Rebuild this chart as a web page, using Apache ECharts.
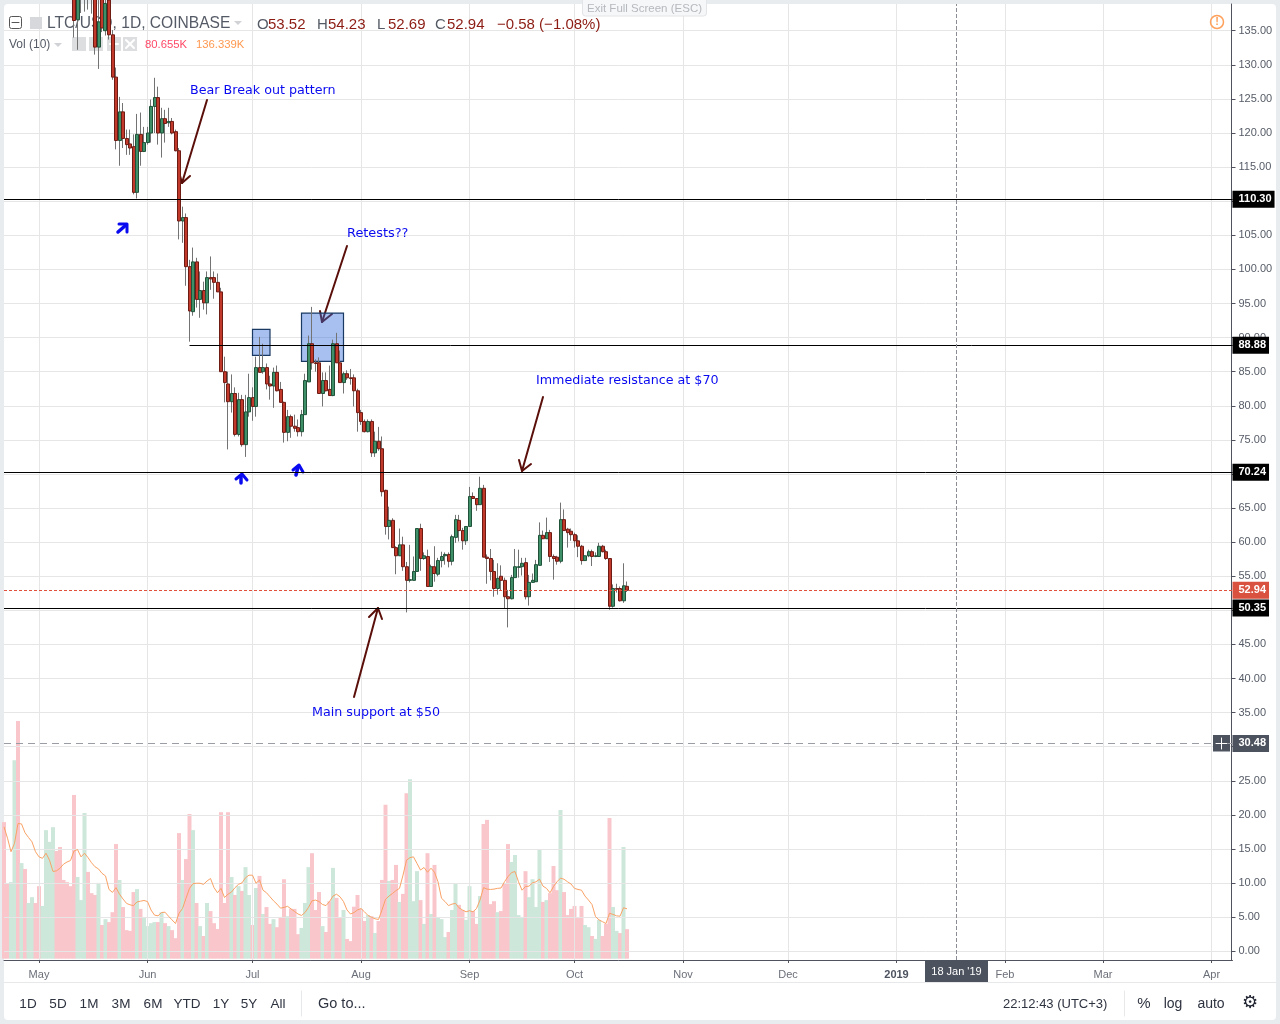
<!DOCTYPE html>
<html>
<head>
<meta charset="utf-8">
<title>LTC/USD</title>
<script src="https://cdn.jsdelivr.net/npm/echarts@6/dist/echarts.min.js"></script>
<style>
html, body { margin: 0; padding: 0; background: #e9ecef; }
#chart { width: 1280px; height: 1024px; }
</style>
</head>
<body>
<div id="chart"></div>
<script>
// daily bars start on this date, the axis runs on into Apr 2019
const firstDay = Date.UTC(2018, 3, 21);
const dayCount = 352;

const tickDates = ['2018-05-01', '2018-06-01', '2018-07-01', '2018-08-01', '2018-09-01', '2018-10-01',
    '2018-11-01', '2018-12-01', '2019-01-01', '2019-02-01', '2019-03-01', '2019-04-01'];
const tickNames = ['May', 'Jun', 'Jul', 'Aug', 'Sep', 'Oct', 'Nov', 'Dec', '2019', 'Feb', 'Mar', 'Apr'];

const priceTicks = [0, 5, 10, 15, 20, 25, 30, 35, 40, 45, 50, 55, 60, 65, 70, 75, 80, 85, 90, 95, 100,
    105, 110, 115, 120, 125, 130, 135];
const priceLabels = [0, 5, 10, 15, 20, 25, 35, 40, 45, 55, 60, 65, 75, 80, 85, 90, 95, 100,
    105, 115, 120, 125, 130, 135];

// the first 20 sessions sit above the visible price range
const hiddenSessions = 20;

// open, close, low, high
const candles = [
    [143, 136.5, 134, 147], [136.6, 141, 132.2, 146], [146, 144, 137.6, 150], [148, 146, 137.8, 151], [146, 148, 138.1, 150],
    [147, 145, 137.5, 149], [141, 132.6, 131.5, 144], [132.6, 136.3, 129.4, 140], [140, 135.4, 134.8, 143], [135, 139, 134.3, 142],
    [139.5, 134.4, 133.7, 142], [134.4, 128.2, 127.8, 135.1], [128.2, 118.9, 117.6, 129.6], [118.9, 123.1, 115.2, 125.3], [123.1, 119.2, 117.8, 124.4],
    [119.2, 118.3, 116.8, 120.5], [118.4, 117.8, 116.8, 120.5], [118, 111.3, 111, 119.8], [111.3, 119.8, 110.4, 122.8], [119.8, 117.3, 115.2, 123],
    [117.3, 118.6, 117.2, 120.9], [118.6, 120, 118.3, 120.9], [120, 123.9, 118.6, 124.9], [123.9, 125.2, 120, 128.1], [125.2, 120, 118.3, 126.8],
    [120, 122.1, 116.4, 123.7], [122.1, 121.4, 118.6, 123.4], [121.5, 121.7, 120.9, 123.7], [121.7, 120, 119.8, 122.2], [120.2, 117.4, 117.3, 120.5],
    [117.4, 107.1, 104.4, 117.8], [107.1, 107.6, 103.9, 109.2], [107.6, 100.4, 97.6, 108.2], [100.4, 93.9, 89.4, 101.4], [93.8, 101.1, 93.2, 103.2],
    [101.1, 95.6, 94.4, 101.7], [95.6, 96.9, 92.9, 99.7], [96.9, 95.1, 94.1, 98.2], [95.1, 98.8, 93.4, 99.7], [98.8, 98.6, 97, 101.9],
    [98.8, 98.1, 95.7, 99.7], [98.1, 96.7, 96.7, 99.4], [96.7, 85, 85, 97.3], [85, 83.4, 80.5, 87.2], [83.2, 80.6, 73.6, 85],
    [80.6, 81.8, 79, 84.6], [81.8, 75.8, 75.5, 82.7], [75.8, 80.9, 75.5, 81.9], [80.9, 74.3, 74, 81.6], [74.3, 79.1, 72.5, 81.6],
    [79.1, 81.2, 78.4, 84.7], [81.2, 79.9, 77.8, 82.7], [79.9, 85.6, 78.4, 87.2], [85.6, 84.9, 84.9, 90.1], [85, 85.6, 84.7, 89.1],
    [85.6, 83.2, 82.4, 86.2], [83.2, 82.9, 80.9, 84.4], [82.9, 84.9, 79.7, 85.6], [84.9, 82.2, 82.1, 85.9], [82.4, 80.5, 80.5, 83.5],
    [80.5, 76.1, 74.6, 80.6], [76.1, 78.4, 74.8, 79.4], [78.4, 77, 75.3, 78.7], [77, 76.7, 76.2, 78.7], [76.8, 76.2, 75.5, 78],
    [76.2, 78.7, 75.5, 79.4], [78.7, 83.7, 78.7, 84.7], [83.5, 89.1, 83.5, 90.3], [89.1, 86.3, 85.3, 94.5], [86.3, 86.2, 85, 86.8],
    [86.3, 81.8, 81.8, 87.1], [81.8, 83.7, 79.9, 84.9], [83.7, 82.2, 82.1, 84.9], [82.4, 81.5, 81.5, 85.9], [81.5, 89.1, 81.4, 89.7],
    [89.1, 86.3, 86.3, 90.7], [86.3, 83.4, 83.4, 88.1], [83.4, 84.7, 81.8, 85], [84.7, 84.1, 83.8, 85.2], [84.1, 84, 83.1, 85.4],
    [84.1, 82.2, 79.9, 84.6], [82.2, 79, 76.2, 82.5], [79, 77.7, 77.2, 79.4], [77.7, 76.2, 76.1, 78], [76.2, 77.7, 76.1, 78],
    [77.7, 73.1, 72.5, 78], [73.1, 74.8, 72.5, 76.2], [74.8, 73.7, 73.4, 76.9], [73.7, 67.4, 66.7, 75.5], [67.6, 62.3, 61.1, 67.7],
    [62.3, 63.2, 60.4, 65.2], [63.2, 59.2, 59.2, 63.5], [59.2, 58, 55.3, 59.4], [58, 59.6, 58, 62], [59.6, 56.4, 55.8, 60.8],
    [56.4, 54.4, 49.7, 57.1], [54.4, 54.5, 54.1, 59.6], [54.4, 55.7, 54.4, 57.9], [55.7, 62, 55.7, 62], [62, 57.6, 55.8, 62.7],
    [57.6, 58, 57.4, 58.5], [57.9, 53.5, 53.5, 58.9], [53.5, 56.4, 53.5, 56.7], [56.4, 55.4, 54.2, 59.4], [55.3, 57.3, 55, 57.7],
    [57.3, 57.9, 56.3, 58.6], [58, 58.2, 56.7, 58.5], [58.2, 57.2, 56.3, 58.5], [57.2, 60.8, 56.6, 61.1], [60.7, 63.3, 59.9, 64],
    [63.2, 61.7, 60.1, 64], [61.7, 60.2, 58.9, 62.1], [60.2, 62.3, 59.6, 62.3], [62.3, 66.7, 62.3, 68.1], [66.7, 66.4, 66.4, 67.3],
    [66.4, 65.5, 64.6, 66.4], [65.5, 67.9, 65.5, 69.6], [67.9, 57.8, 57.8, 68.4], [57.8, 57.6, 53.9, 58.2], [57.6, 55.7, 54.4, 59],
    [55.7, 53.2, 52, 57.4], [53.2, 54.7, 52.3, 56.9], [55, 54.4, 52.9, 56.6], [54.4, 52, 50.3, 54.8], [52, 51.7, 47.5, 53],
    [51.7, 54.8, 51.6, 55.2], [54.8, 56.4, 54.8, 59], [56.3, 56.4, 54.8, 58.9], [56.4, 56.9, 55.1, 57.7], [57, 52, 51.6, 57.7],
    [52, 54.1, 50.7, 55.2], [54.1, 54.4, 54.1, 55.4], [54.2, 56.7, 54.2, 57.4], [56.6, 61, 56.6, 62.9], [61, 60.5, 60.5, 61.7],
    [60.5, 61.4, 60.5, 63.6], [61.4, 57.9, 57.1, 61.8], [57.9, 57.6, 54.5, 58.2], [57.8, 57.2, 56.7, 58], [57.2, 63.3, 56.9, 65.8],
    [63.3, 61.7, 61.7, 64.8], [61.9, 61.4, 59.2, 62.1], [61.6, 61.1, 60.2, 62], [61.1, 60.2, 59.2, 61.4], [60.2, 59.4, 57.8, 61],
    [59.4, 57.3, 56.7, 59.6], [57.3, 58, 57.3, 58], [58, 58.6, 57.8, 58.9], [58.6, 57.9, 56.5, 58.9], [57.9, 58, 57.8, 58.5],
    [57.9, 59.4, 57.9, 59.9], [59.4, 58.6, 58.5, 59.6], [58.6, 57.6, 57.4, 58.9], [57.6, 50.6, 50.1, 57.6], [50.6, 53.2, 50.4, 53.8],
    [53.2, 53.1, 52.6, 53.9], [53.2, 51.4, 51.3, 53.5], [51.4, 53.6, 51.1, 56.9], [53.52, 52.94, 52.69, 54.23]
];

// volume in thousands
const volumes = [373, 206, 209, 542, 649, 261, 245, 152, 168, 152,
    198, 144, 351, 319, 359, 294, 305, 215, 209, 198,
    447, 223, 160, 398, 237, 179, 174, 207, 92, 108,
    100, 127, 313, 215, 141, 78, 76, 182, 190, 136,
    111, 89, 97, 100, 100, 127, 97, 89, 78, 56,
    343, 215, 272, 395, 351, 152, 89, 62, 152, 130,
    97, 81, 400, 152, 400, 223, 174, 198, 185, 250,
    174, 92, 193, 226, 122, 141, 95, 108, 86, 114,
    217, 116, 136, 136, 67, 84, 152, 250, 288, 133,
    182, 89, 73, 157, 248, 166, 111, 133, 54, 48,
    142, 174, 136, 103, 119, 116, 70, 103, 215, 420,
    212, 215, 256, 155, 177, 452, 490, 157, 239, 160,
    95, 288, 122, 256, 111, 108, 59, 73, 133, 204,
    147, 133, 106, 198, 130, 95, 171, 368, 379, 149,
    157, 127, 130, 204, 313, 264, 283, 119, 114, 239,
    168, 217, 141, 299, 155, 160, 179, 253, 187, 406,
    182, 119, 136, 144, 111, 144, 92, 86, 62, 54,
    106, 62, 95, 384, 141, 76, 70, 305, 80.655];

const volumeSides = ('r r g g r g r g g r  r g g g g r r r r r  r g g g r r r g r g  r r r g r r r r g r ' +
    'g g g g r g r g r r  r g r r g r g r g r  r r r r r g r g r g  g r g r g r r g r r ' +
    'r g r r r g g g r r  r g r r g r r g r r  r r r r g r g r r r  g r r g r r g g g r ' +
    'g r g r g g g r g g  r r g g r r g r r r  r g r r r g g g g r  g g g g r g r r r g ' +
    'r r r r r r g g r g  g r r r g g r g r').trim().split(/\s+/);

const volumeAverage = [360, 329, 292, 315, 369, 368, 344, 331, 319, 292,
    278, 274, 288, 269, 238, 240, 247, 258, 264, 268,
    294, 298, 278, 288, 276, 262, 251, 245, 233, 226,
    189, 181, 194, 176, 163, 151, 147, 145, 155, 157,
    159, 156, 133, 119, 117, 126, 127, 116, 106, 96,
    124, 137, 165, 192, 205, 206, 206, 203, 212, 219,
    194, 180, 192, 167, 176, 182, 194, 203, 207, 221,
    228, 228, 206, 215, 187, 180, 169, 158, 149, 138,
    140, 143, 136, 129, 122, 118, 126, 140, 158, 160,
    156, 148, 145, 156, 171, 176, 169, 156, 133, 122,
    126, 133, 137, 128, 118, 113, 109, 107, 133, 162,
    171, 178, 186, 192, 228, 269, 276, 278, 260, 242,
    249, 236, 247, 236, 210, 165, 156, 145, 149, 151,
    139, 133, 128, 131, 128, 137, 160, 194, 190, 189,
    190, 192, 193, 210, 224, 235, 238, 210, 187, 197,
    198, 207, 210, 217, 198, 192, 180, 197, 210, 220,
    217, 210, 204, 192, 189, 187, 171, 160, 148, 115,
    106, 101, 96, 124, 121, 117, 116, 139, 136.339];

const categories = [];
for (let i = 0; i < dayCount; i++) {
    categories.push(new Date(firstDay + i * 86400000).toISOString().slice(0, 10));
}

const isMonthTick = (index, value) => tickDates.indexOf(value) !== -1;

const blank = () => Array(hiddenSessions).fill('-');
const wickData = blank().concat(candles);
const bodyData = blank().concat(candles.map(c => [c[0], c[1], Math.min(c[0], c[1]), Math.max(c[0], c[1])]));

const volumeData = volumes.map((v, i) => ({
    value: v,
    itemStyle: { color: volumeSides[i] === 'g' ? '#cde7db' : '#f9c7cb' }
}));

function priceTag(value, background) {
    return {
        show: true, position: 'end', distance: 0, formatter: value.toFixed(2),
        color: '#fff', backgroundColor: background, fontFamily: 'Liberation Sans', fontSize: 11,
        fontWeight: 'bold', padding: [4, 3, 2, 6]
    };
}

function priceLine(value, color, type, tagColor, from) {
    return [
        { xAxis: from || categories[0], yAxis: value, lineStyle: { color: color, type: type, width: 1 }, label: priceTag(value, tagColor || color) },
        { xAxis: categories[dayCount - 1], yAxis: value }
    ];
}

function txt(x, y, text, color, size, extra, z) {
    return {
        type: 'text', z: z === undefined ? 0.5 : z, silent: true,
        style: Object.assign({
            x: x, y: y, text: text, fill: color, fontSize: size,
            fontFamily: 'Liberation Sans', verticalAlign: 'middle'
        }, extra || {})
    };
}

function stroke(points, color, width, z) {
    return {
        type: 'polyline', z: z === undefined ? 0.5 : z, silent: true, shape: { points: points },
        style: { stroke: color, lineWidth: width, fill: 'none', lineJoin: 'round', lineCap: 'round' }
    };
}

function box(x, y, w, h, fill, z) {
    return { type: 'rect', z: z === undefined ? 0.5 : z, silent: true, shape: { x: x, y: y, width: w, height: h }, style: { fill: fill } };
}

const noteBlue = '#0a0af0';
const noteBrown = '#5a0f0a';
const headerRed = '#8c1c13';
const gray = '#555b66';
const noteFont = { fontFamily: 'DejaVu Sans' };

const rangeButtons = [['1D', 28], ['5D', 58], ['1M', 89], ['3M', 121], ['6M', 153], ['YTD', 187], ['1Y', 221], ['5Y', 249], ['All', 278]];

const graphics = [
    { type: 'rect', z: -10, silent: true, shape: { x: 4, y: 4, width: 1272, height: 1016, r: 4 }, style: { fill: '#fff' } },
    { type: 'rect', z: 6, silent: true, shape: { x: 582.5, y: -3, width: 124, height: 19, r: 3 }, style: { fill: '#f6f7f8', stroke: '#e2e4e7', lineWidth: 1 } },
    txt(644.5, 8.5, 'Exit Full Screen (ESC)', '#b5b8bd', 11.5, { align: 'center' }, 7),

    // header
    { type: 'rect', z: 0.5, silent: true, shape: { x: 9.5, y: 16.5, width: 12, height: 12, r: 2 }, style: { fill: 'none', stroke: '#555', lineWidth: 1 } },
    stroke([[12, 22.5], [19, 22.5]], '#555', 1),
    box(30, 17, 12, 12, '#d6d8db'),
    txt(47, 24, 'LTC/USD, 1D, COINBASE', gray, 15.6),
    { type: 'polygon', z: 0.5, silent: true, shape: { points: [[234, 21], [242, 21], [238, 25]] }, style: { fill: '#d0d2d5' } },
    txt(257, 25, 'O', gray, 15), txt(268, 25, '53.52', headerRed, 15),
    txt(317, 25, 'H', gray, 15), txt(328, 25, '54.23', headerRed, 15),
    txt(377, 25, 'L', gray, 15), txt(388, 25, '52.69', headerRed, 15),
    txt(435, 25, 'C', gray, 15), txt(447, 25, '52.94', headerRed, 15),
    txt(497, 25, '\u22120.58 (\u22121.08%)', headerRed, 15),
    txt(9, 45, 'Vol (10)', gray, 12),
    { type: 'polygon', z: 0.5, silent: true, shape: { points: [[54, 43], [62, 43], [58, 47]] }, style: { fill: '#d0d2d5' } },
    box(72, 37, 14, 14, '#dcdee0'), box(89, 37, 14, 14, '#dcdee0'), box(107, 37, 14, 14, '#dcdee0'), box(123, 37, 14, 14, '#dcdee0'),
    stroke([[126, 40], [134, 48]], '#fff', 2), stroke([[134, 40], [126, 48]], '#fff', 2),
    stroke([[110, 44], [118, 44]], '#fff', 2),
    txt(145, 45, '80.655K', '#ff4a68', 11.3), txt(196, 45, '136.339K', '#ff9850', 11.3),
    { type: 'circle', z: 0.5, silent: true, shape: { cx: 1217, cy: 22, r: 6.5 }, style: { fill: 'none', stroke: '#ffa15c', lineWidth: 1.5 } },
    txt(1217, 22, '!', '#ffa15c', 11, { align: 'center', fontWeight: 'bold' }),

    // notes drawn on the chart
    txt(190, 90.5, 'Bear Break out pattern', noteBlue, 12.7, noteFont),
    txt(347, 233.5, 'Retests??', noteBlue, 12.9, noteFont),
    txt(536, 380.5, 'Immediate resistance at $70', noteBlue, 12.7, noteFont),
    txt(312, 712.5, 'Main support at $50', noteBlue, 12.7, noteFont),
    stroke([[207, 100], [182, 183]], noteBrown, 2), stroke([[179, 172], [182, 183], [190, 176]], noteBrown, 2),
    stroke([[347, 246], [322, 322]], noteBrown, 2), stroke([[320, 311], [322, 322], [332, 314]], noteBrown, 2),
    stroke([[543, 397], [522, 471]], noteBrown, 2), stroke([[519, 460], [522, 471], [531, 464]], noteBrown, 2),
    stroke([[354, 697], [378, 608]], noteBrown, 2), stroke([[369, 617], [378, 608], [382, 619]], noteBrown, 2),
    stroke([[118, 232], [126, 225]], '#0a0af0', 3.5), stroke([[119, 224], [127, 224], [127, 232]], '#0a0af0', 3),
    stroke([[241, 476], [241, 483]], '#0a0af0', 3.5), stroke([[236, 479], [242, 474], [247, 480]], '#0a0af0', 3),
    stroke([[298, 467], [296, 475]], '#0a0af0', 3.5), stroke([[293, 470], [299, 465], [303, 472]], '#0a0af0', 3),

    // crosshair tags
    box(925, 960, 63, 22, '#4c525e', 5),
    txt(956.5, 971.5, "18 Jan '19", '#fff', 11, { align: 'center' }, 6),
    box(1213, 735, 17, 16.5, '#4c525e', 5),
    stroke([[1216, 743.5], [1227, 743.5]], '#fff', 1, 6), stroke([[1221.5, 738], [1221.5, 749]], '#fff', 1, 6),

    // bottom toolbar
    stroke([[4, 982.5], [1276, 982.5]], '#e6e8ea', 1),
    stroke([[301.5, 991], [301.5, 1016]], '#e6e8ea', 1),
    stroke([[1124.5, 991], [1124.5, 1016]], '#e6e8ea', 1),
    txt(318, 1004, 'Go to...', '#2e3340', 14.5),
    txt(1003, 1004, '22:12:43 (UTC+3)', '#2e3340', 13),
    txt(1144, 1004, '%', '#2e3340', 15, { align: 'center' }),
    txt(1173, 1004, 'log', '#2e3340', 14, { align: 'center' }),
    txt(1211, 1004, 'auto', '#2e3340', 14, { align: 'center' }),
    txt(1250, 1003, '\u2699', '#1f2430', 18, { align: 'center', fontFamily: 'DejaVu Sans' })
].concat(rangeButtons.map(b => txt(b[1], 1004, b[0], '#2e3340', 13.5, { align: 'center' })));

const option = {
    animation: false,
    backgroundColor: '#e9ecef',
    grid: { left: 4, top: 4, width: 1228.5, height: 956 },
    xAxis: {
        type: 'category',
        data: categories,
        boundaryGap: false,
        axisLine: { onZero: false, lineStyle: { color: '#50535e' } },
        axisTick: { interval: isMonthTick, length: 3, lineStyle: { color: '#50535e' } },
        axisLabel: {
            interval: isMonthTick,
            margin: 9,
            color: '#6b6f78',
            fontFamily: 'Liberation Sans',
            fontSize: 11,
            formatter: v => {
                const name = tickNames[tickDates.indexOf(v)];
                return name === '2019' ? '{year|2019}' : name;
            },
            rich: { year: { fontWeight: 'bold', color: '#4c525e', fontSize: 11, fontFamily: 'Liberation Sans' } }
        },
        splitLine: { show: true, interval: isMonthTick, lineStyle: { color: '#e6e6e6', width: 1 } }
    },
    yAxis: [
        {
            type: 'value',
            position: 'right',
            offset: -1,
            min: -1.276,
            max: 138.92,
            axisLine: { show: true, onZero: false, lineStyle: { color: '#50535e' } },
            axisTick: { show: true, length: 4, customValues: priceTicks, lineStyle: { color: '#50535e' } },
            axisLabel: {
                customValues: priceLabels, margin: 7, color: '#555b66', fontFamily: 'Liberation Sans', fontSize: 11,
                formatter: v => v.toFixed(2)
            },
            splitLine: { show: true, lineStyle: { color: '#e6e6e6', width: 1 } }
        },
        { type: 'value', show: false, min: -3.55, max: 2606.3, splitLine: { show: false } }
    ],
    graphic: { elements: graphics },
    series: [
        {
            name: 'Vol',
            type: 'bar',
            yAxisIndex: 1,
            barWidth: 4,
            z: -1,
            silent: true,
            data: volumeData
        },
        {
            name: 'Vol MA',
            type: 'line',
            yAxisIndex: 1,
            showSymbol: false,
            silent: true,
            z: 1.5,
            lineStyle: { color: '#f9a266', width: 1 },
            data: volumeAverage
        },
        {
            name: 'wicks',
            type: 'candlestick',
            barWidth: 1,
            z: 2,
            silent: true,
            itemStyle: { color: '#737373', color0: '#737373', borderColor: '#737373', borderColor0: '#737373', borderColorDoji: '#737373', borderWidth: 1 },
            markArea: {
                silent: true,
                itemStyle: { color: 'rgba(46,105,220,0.42)', borderColor: '#1b3a63', borderWidth: 1.2 },
                data: [
                    [{ xAxis: categories[71], yAxis: 91.2 }, { xAxis: categories[76], yAxis: 87.4 }],
                    [{ xAxis: categories[85], yAxis: 93.6 }, { xAxis: categories[97], yAxis: 86.5 }]
                ]
            },
            data: wickData
        },
        {
            name: 'LTC/USD',
            type: 'candlestick',
            barWidth: 3.5,
            z: 3,
            silent: true,
            itemStyle: { color: '#3f9069', color0: '#c0392b', borderColor: '#1f5239', borderColor0: '#6e1b14', borderColorDoji: '#6e1b14', borderWidth: 1 },
            markLine: {
                silent: true,
                symbol: 'none',
                precision: 2,
                data: [
                    priceLine(110.30, '#000', 'solid'),
                    priceLine(88.88, '#000', 'solid', null, categories[53]),
                    priceLine(70.24, '#000', 'solid'),
                    priceLine(50.35, '#000', 'solid'),
                    priceLine(52.94, '#e0503c', [3, 2], '#d9523f'),
                    priceLine(30.48, '#9a9da3', [7, 5], '#4c525e'),
                    [
                        { xAxis: "2019-01-18", yAxis: -1.276, lineStyle: { color: '#8a8d94', type: 'dashed', width: 1 }, label: { show: false } },
                        { xAxis: "2019-01-18", yAxis: 138.92 }
                    ]
                ]
            },
            data: bodyData
        }
    ]
};

const chart = echarts.init(document.getElementById('chart'));
chart.setOption(option);
</script>
</body>
</html>
